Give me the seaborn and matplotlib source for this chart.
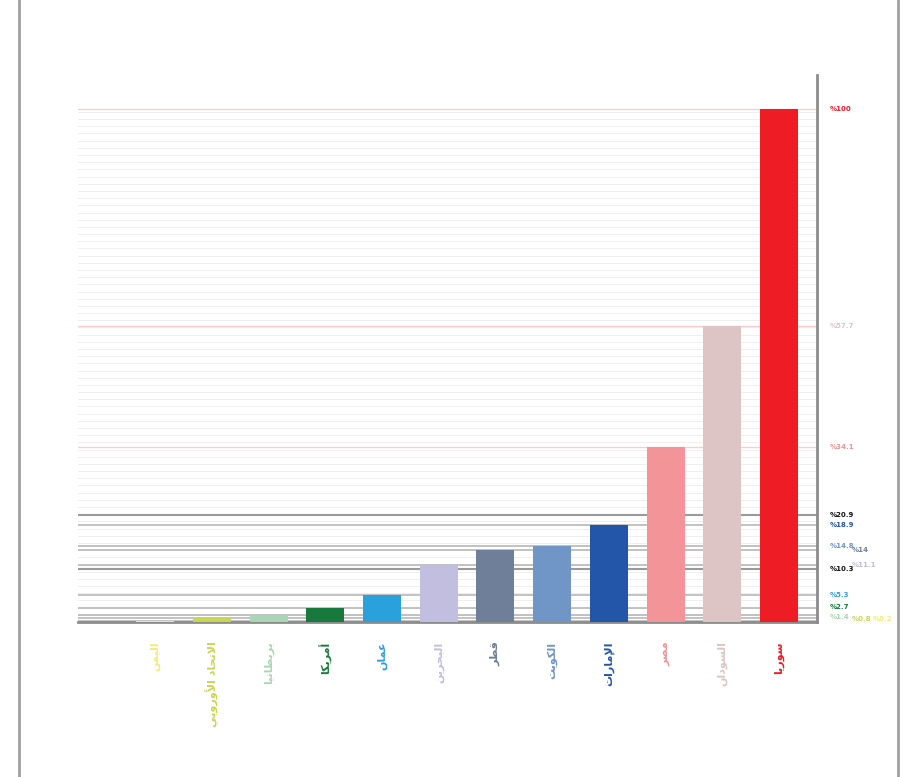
import matplotlib
matplotlib.use("Agg")
import matplotlib.pyplot as plt
import seaborn as sns
import pandas as pd
import numpy as np
from matplotlib.lines import Line2D

sns.set_theme(style="white")
plt.rcParams['font.family'] = ['DejaVu Sans']

# ------------------------------
# Data
# ------------------------------
countries = ["اليمن", "الاتحاد الأوروبي", "بريطانيا", "أمريكا", "عمان", "البحرين",
             "قطر", "الكويت", "الإمارات", "مصر", "السودان", "سوريا"]
values = [0.2, 0.8, 1.4, 2.7, 5.3, 11.1, 14.0, 14.8, 18.9, 34.1, 57.7, 100]
colors = ["#f2ec7a", "#c9d652", "#a9d7b4", "#177a3c", "#2aa0dc", "#c1bedf",
          "#6f7f99", "#7096c8", "#2356a8", "#f29498", "#dec5c5", "#ee1c24"]
# where each value label sits: column next to the spine and its height
label_column = [2, 1, 0, 0, 0, 1, 1, 0, 0, 0, 0, 0]
label_y = [0.6, 0.6, 1.0, 2.9, 5.3, 11.1, 14.0, 14.8, 18.9, 34.1, 57.7, 100]
extra_levels = [20.9, 10.3]                             # black reference lines

# ------------------------------
# Minimal Arabic shaping (matplotlib has no text shaping)
# ------------------------------
FORMS = {
    "ا": (0xFE8D, 0xFE8E), "أ": (0xFE83, 0xFE84), "إ": (0xFE87, 0xFE88),
    "د": (0xFEA9, 0xFEAA), "ر": (0xFEAD, 0xFEAE), "و": (0xFEED, 0xFEEE),
    "ب": (0xFE8F, 0xFE90, 0xFE91, 0xFE92), "ت": (0xFE95, 0xFE96, 0xFE97, 0xFE98),
    "ح": (0xFEA1, 0xFEA2, 0xFEA3, 0xFEA4), "س": (0xFEB1, 0xFEB2, 0xFEB3, 0xFEB4),
    "ص": (0xFEB9, 0xFEBA, 0xFEBB, 0xFEBC), "ط": (0xFEC1, 0xFEC2, 0xFEC3, 0xFEC4),
    "ع": (0xFEC9, 0xFECA, 0xFECB, 0xFECC), "ق": (0xFED5, 0xFED6, 0xFED7, 0xFED8),
    "ك": (0xFED9, 0xFEDA, 0xFEDB, 0xFEDC), "ل": (0xFEDD, 0xFEDE, 0xFEDF, 0xFEE0),
    "م": (0xFEE1, 0xFEE2, 0xFEE3, 0xFEE4), "ن": (0xFEE5, 0xFEE6, 0xFEE7, 0xFEE8),
    "ي": (0xFEF1, 0xFEF2, 0xFEF3, 0xFEF4),
}
LAM_ALEF = {"ا": (0xFEFB, 0xFEFC), "أ": (0xFEF7, 0xFEF8), "إ": (0xFEF9, 0xFEFA)}


def shape(word):
    out = []
    i = 0
    n = len(word)
    while i < n:
        ch = word[i]
        if ch not in FORMS:
            out.append(ch)
            i += 1
            continue
        prev = word[i - 1] if i > 0 else None
        joins_prev = prev in FORMS and len(FORMS[prev]) == 4 and i > 0
        if ch == "ل" and i + 1 < n and word[i + 1] in LAM_ALEF:
            lig = LAM_ALEF[word[i + 1]]
            out.append(chr(lig[1] if joins_prev else lig[0]))
            i += 2
            continue
        nxt = word[i + 1] if i + 1 < n else None
        f = FORMS[ch]
        joins_next = len(f) == 4 and nxt in FORMS
        if joins_prev and joins_next:
            out.append(chr(f[3]))
        elif joins_prev:
            out.append(chr(f[1]))
        elif joins_next:
            out.append(chr(f[2]))
        else:
            out.append(chr(f[0]))
        i += 1
    return "".join(out)[::-1]


# ------------------------------
# Plot
# ------------------------------
df = pd.DataFrame({"country": countries, "value": values})

fig = plt.figure(figsize=(9.19, 7.77), dpi=100)
ax = fig.add_axes([0.085, 0.1995, 0.804, 0.704])

# faint background grid
for y in np.arange(1.4, 100, 1.4):
    ax.axhline(y, color="#efefef", lw=0.7, zorder=0)

# reference lines at each bar value
for v in values:
    if v > 25:
        ax.axhline(v, color="#f5cfd2", lw=1.0, zorder=1)
    else:
        ax.axhline(v, color="#b8b8b8", lw=1.2, zorder=1)
for v in extra_levels:
    ax.axhline(v, color="#9a9a9a", lw=1.5, zorder=1)

sns.barplot(data=df, x="country", y="value", hue="country", palette=colors,
            order=countries, legend=False, width=0.67, saturation=1,
            linewidth=0, ax=ax, zorder=3)

ax.set_xlim(-1.36, 11.67)
ax.set_ylim(0, 106.6)
ax.set_xlabel("")
ax.set_ylabel("")
ax.set_yticks([])

ax.set_xticks(range(len(countries)))
ax.set_xticklabels([shape(c) for c in countries], rotation=90, fontsize=8,
                   fontweight="bold")
for lbl, c in zip(ax.get_xticklabels(), colors):
    lbl.set_color(c)
ax.tick_params(axis="x", length=0, pad=14)

for side in ["top", "left"]:
    ax.spines[side].set_visible(False)
for side in ["bottom", "right"]:
    ax.spines[side].set_color("#8c8c8c")
    ax.spines[side].set_linewidth(2)

# value labels at the right spine
tr = ax.get_yaxis_transform()
col_x = [1.017, 1.047, 1.075]
for v, ly, c, col in zip(values, label_y, colors, label_column):
    ax.text(col_x[col], ly, f"%{v:g}", transform=tr, color=c, fontsize=5,
            fontweight="bold", va="center", ha="left")
for v in extra_levels:
    ax.text(col_x[0], v, f"%{v:g}", transform=tr, color="#111111", fontsize=5,
            fontweight="bold", va="center", ha="left")

# page frame
for xf in [0.021, 0.977]:
    fig.add_artist(Line2D([xf, xf], [0, 1], transform=fig.transFigure,
                          color="#a0a0a0", lw=2))

fig.savefig("out.png", dpi=100)
